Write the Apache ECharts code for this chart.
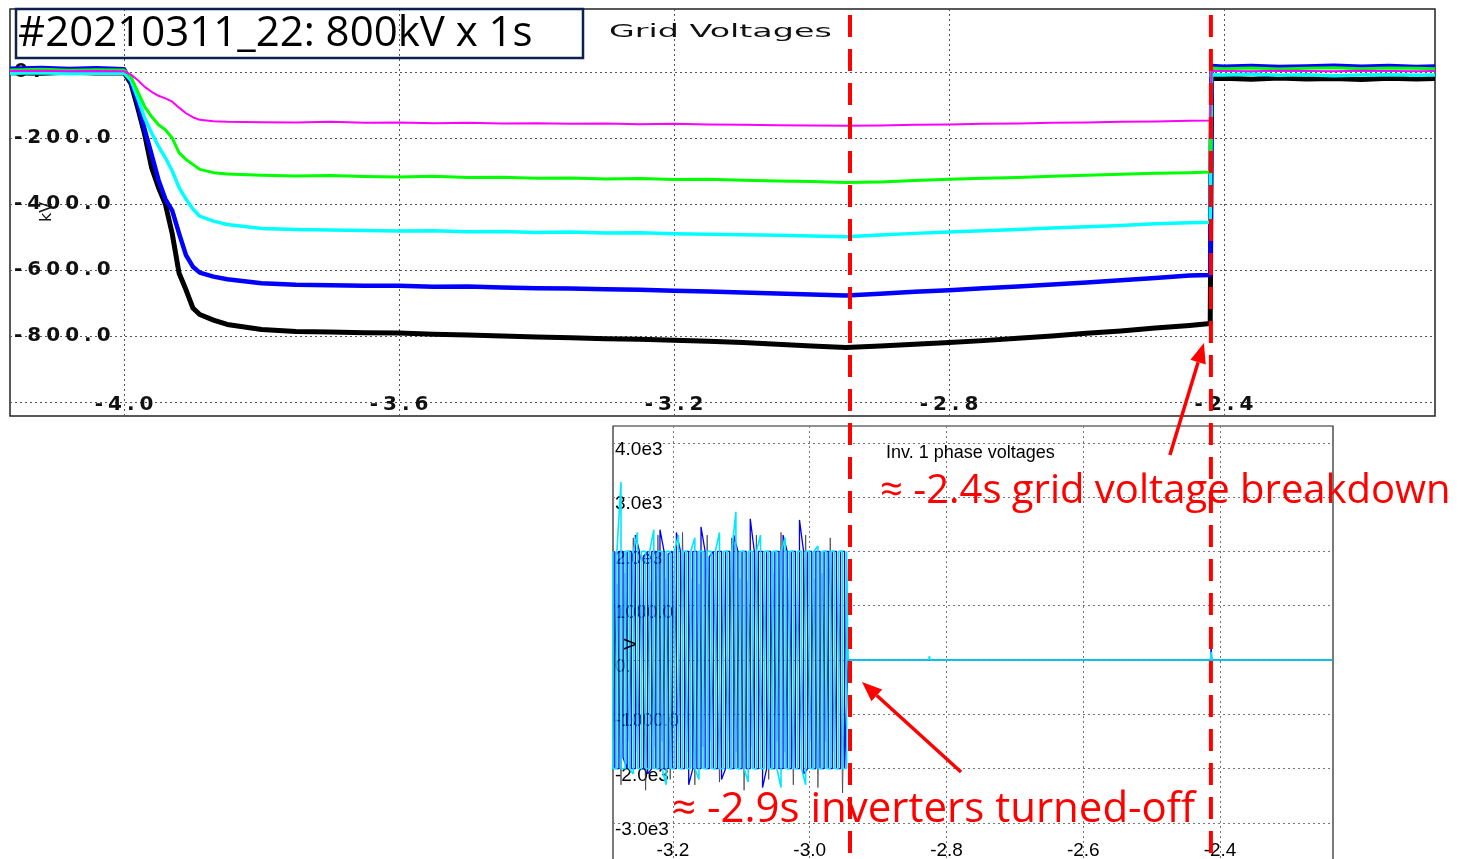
<!DOCTYPE html>
<html>
<head>
<meta charset="utf-8">
<script src="https://cdn.jsdelivr.net/npm/echarts@6/dist/echarts.min.js"></script>
<style>
  html, body { margin: 0; padding: 0; background: #fff; }
  #chart { width: 1458px; height: 859px; }
</style>
</head>
<body>
<div id="chart"></div>
<script>
// ---- grid voltages (top panel), kV ----
const gridT = [-4.166, -4.12, -4.08, -4.04, -4.0,
  -3.99, -3.98, -3.97, -3.96, -3.95, -3.94, -3.93, -3.92, -3.91, -3.90, -3.89, -3.87, -3.85,
  -3.80, -3.75, -3.70, -3.65, -3.60, -3.55, -3.50, -3.45, -3.40, -3.35, -3.30, -3.25, -3.20, -3.15,
  -3.10, -3.05, -3.00, -2.95, -2.90, -2.85, -2.80, -2.75, -2.70, -2.65, -2.60, -2.55, -2.50, -2.45,
  -2.42, -2.418,
  -2.40, -2.36, -2.32, -2.28, -2.24, -2.20, -2.16, -2.12, -2.093];

const magentaV = [3, 4, 2, 3, 2,
  -8, -25, -45, -60, -72, -80, -90, -108, -125, -137, -145, -149, -151,
  -152, -153, -151, -154, -153, -155, -154, -156, -155, -157, -156, -158, -157, -159,
  -160, -161, -162, -163, -162, -160, -159, -157, -156, -154, -153, -151, -150, -148,
  -147, 4,
  3, 2, 4, 3, 2, 4, 3, 2, 3];
const greenV = [6, 8, 5, 7, 6,
  -15, -60, -105, -135, -160, -175, -200, -245, -265, -280, -295, -305, -309,
  -313, -315, -314, -317, -318, -316, -320, -319, -322, -321, -324, -323, -326, -325,
  -328, -330, -332, -335, -333, -329, -325, -322, -320, -316, -313, -310, -307, -305,
  -303, 12,
  10, 12, 9, 11, 13, 10, 12, 11, 10];
const cyanV = [-4, -2, -5, -3, -4,
  -25, -80, -140, -185, -225, -260, -300, -350, -385, -415, -437, -452, -462,
  -474, -477, -479, -480, -482, -481, -484, -483, -486, -485, -488, -487, -490, -492,
  -493, -495, -497, -499, -494, -489, -485, -481, -477, -473, -469, -465, -460, -457,
  -455, -8,
  -9, -7, -10, -8, -11, -9, -8, -10, -9];
const blueV = [10, 12, 9, 11, 8,
  -30, -95, -175, -250, -327, -385, -420, -490, -555, -590, -608, -620, -628,
  -640, -645, -646, -648, -648, -651, -650, -653, -655, -656, -658, -660, -663, -665,
  -668, -671, -674, -677, -672, -666, -661, -655, -650, -644, -638, -631, -624, -617,
  -615, 18,
  16, 18, 15, 17, 19, 16, 18, 15, 17];
const blackV = [-2, -4, -1, -3, -2,
  -35, -110, -190, -290, -350, -400, -490, -610, -660, -715, -735, -752, -765,
  -780, -786, -788, -790, -791, -795, -797, -800, -803, -805, -808, -810, -813, -816,
  -820, -825, -830, -835, -830, -825, -820, -814, -807, -800, -792, -785, -776, -768,
  -762, -20,
  -19, -22, -18, -21, -20, -23, -19, -21, -20];

const gridXTicks = [-4.0, -3.6, -3.2, -2.8, -2.4];
const gridXLabels = ['-4.0', '-3.6', '-3.2', '-2.8', '-2.4'];
const gridYLines = [0, -200, -400, -600, -800, -1000];
const gridYTicks = [0, -200, -400, -600, -800];
const gridYLabels = ['0.', '-200.0', '-400.0', '-600.0', '-800.0'];

// ---- inverter 1 phase voltages (bottom panel), V ----
// scope style: every sample is a vertical stroke from its low to its high value
const invT = [-3.288, -3.282, -3.276, -3.270, -3.264, -3.258, -3.252, -3.246, -3.240, -3.234,
  -3.228, -3.222, -3.216, -3.210, -3.204, -3.198, -3.192, -3.186, -3.180, -3.174,
  -3.168, -3.162, -3.156, -3.150, -3.144, -3.138, -3.132, -3.126, -3.120, -3.114,
  -3.108, -3.102, -3.096, -3.090, -3.084, -3.078, -3.072, -3.066, -3.060, -3.054,
  -3.048, -3.042, -3.036, -3.030, -3.024, -3.018, -3.012, -3.006, -3.000, -2.994,
  -2.988, -2.982, -2.976, -2.970, -2.964, -2.958, -2.952, -2.946];
const cyanHi = [2000, 2000, 3280, 2000, 2000, 2000, 2350, 2000, 2000, 2000,
  2400, 2000, 2000, 2000, 2000, 2000, 2300, 2000, 2000, 2000,
  2250, 2000, 2000, 2000, 2000, 2000, 2350, 2000, 2000, 2000,
  2730, 2000, 2000, 2000, 2000, 2000, 2300, 2000, 2000, 2000,
  2000, 2000, 2250, 2000, 2000, 2000, 2000, 2000, 2000, 2000,
  2100, 2000, 2000, 2000, 2000, 2000, 2000, 2000];
const cyanLo = [-2000, -2000, -2000, -2000, -2000, -2100, -2000, -2000, -2000, -2000,
  -2000, -2000, -2000, -2300, -2000, -2000, -2000, -2000, -2000, -2000,
  -2000, -2200, -2000, -2000, -2000, -2000, -2000, -2000, -2000, -2000,
  -2000, -2000, -2000, -2250, -2000, -2000, -2000, -2000, -2000, -2000,
  -2000, -2350, -2000, -2000, -2000, -2000, -2000, -2300, -2000, -2000,
  -2000, -2000, -2000, -2000, -2000, -2000, -2000, -2000];

const invTb = [-3.285, -3.279, -3.273, -3.267, -3.261, -3.255, -3.249, -3.243, -3.237, -3.231,
  -3.225, -3.219, -3.213, -3.207, -3.201, -3.195, -3.189, -3.183, -3.177, -3.171,
  -3.165, -3.159, -3.153, -3.147, -3.141, -3.135, -3.129, -3.123, -3.117, -3.111,
  -3.105, -3.099, -3.093, -3.087, -3.081, -3.075, -3.069, -3.063, -3.057, -3.051,
  -3.045, -3.039, -3.033, -3.027, -3.021, -3.015, -3.009, -3.003, -2.997, -2.991,
  -2.985, -2.979, -2.973, -2.967, -2.961, -2.955, -2.949];
const blueHi = [2000, 2000, 2000, 2000, 2000, 2300, 2000, 1900, 2000, 2000,
  2000, 2400, 2000, 1950, 2000, 2350, 2000, 2000, 2000, 2000,
  2000, 2450, 2000, 1900, 2000, 2000, 2000, 2000, 2000, 2300,
  2000, 2000, 2000, 2600, 2000, 2000, 2000, 2000, 2000, 2000,
  2000, 2300, 2000, 2000, 2000, 2580, 2000, 2000, 2000, 2000,
  2000, 2000, 2000, 2000, 2000, 2000, 2000];
const blueLo = [-2000, -2000, -1800, -2000, -2000, -2000, -2000, -2000, -2100, -2000,
  -2000, -2000, -2000, -2000, -2000, -2000, -2000, -2000, -2300, -2000,
  -2000, -2000, -2000, -2000, -2000, -2000, -2200, -2000, -2000, -2000,
  -2000, -2000, -2000, -2000, -2000, -2000, -2350, -2000, -2000, -2000,
  -2000, -2000, -2000, -2000, -2000, -2000, -2100, -2000, -2000, -2000,
  -2000, -2000, -2000, -2000, -2000, -2000, -2000];

const darkV = [-1500, 1400, -2300, 1600, -1500, 2250, -1700, 1500, -2400, 1450,
  -1600, 2300, -1500, 1500, -2200, 1600, -1500, 2350, -1700, 1500,
  -2300, 1400, -1600, 2300, -1500, 1500, -2250, 1600, -1500, 2250,
  -1700, 1500, -2400, 1450, -1600, 2300, -1500, 1500, -2200, 1600,
  -1500, 2350, -1700, 1500, -2300, 1400, -1600, 2300, -1500, 1500,
  -2350, 1600, -1500, 2250, -1700, 1500, -2450, 1450];

// after the inverters are switched off
const tailT = [-2.944, -2.826, -2.825, -2.824, -2.414, -2.413, -2.412, -2.235];
const cyanTail = [0, 0, 70, 0, 0, 150, 0, 0];
const blueTail = [0, 0, 0, 0, 0, 250, 0, 0];
const darkTail = [0, 0, 0, 0, 0, -60, 0, 0];

const invXTicks = [-3.2, -3.0, -2.8, -2.6, -2.4];
const invXLabels = ['-3.2', '-3.0', '-2.8', '-2.6', '-2.4'];
const invYTicks = [4000, 3000, 2000, 1000, 0, -1000, -2000, -3000];
const invYLabels = ['4.0e3', '3.0e3', '2.0e3', '1000.0', '0.', '-1000.0', '-2.0e3', '-3.0e3'];

// event times (s): inverters off, grid voltage breakdown
const eventT = [-2.944, -2.419];

const chart = echarts.init(document.getElementById('chart'));

const pairs = (t, v) => t.map((x, i) => [x, v[i]]);
const strokes = (t, hi, lo) => {
  const out = [];
  t.forEach((x, i) => {
    if (i % 2 === 0) out.push([x, hi[i]], [x, lo[i]]);
    else out.push([x, lo[i]], [x, hi[i]]);
  });
  return out;
};
const spread = s => s.split('').join('\u2005');
const pick = (ticks, labels) => v => {
  const i = ticks.findIndex(t => Math.abs(t - v) < 1e-6);
  return i < 0 ? '' : labels[i];
};

const scopeFont = 'DejaVu Sans';
const invFont = 'Liberation Sans';

const gridLine = (data, color, width) => ({
  type: 'line', xAxisIndex: 0, yAxisIndex: 0, data: data,
  showSymbol: false, silent: true,
  lineStyle: { color: color, width: width, join: 'round' }
});
const invLine = (data, color, width, opacity) => ({
  type: 'line', xAxisIndex: 1, yAxisIndex: 1, data: data,
  showSymbol: false, silent: true,
  lineStyle: { color: color, width: width, opacity: opacity }
});

chart.setOption({
  animation: false,
  backgroundColor: '#fff',
  grid: [
    { left: 10, top: 9, width: 1425, height: 407, show: true, borderColor: '#222', borderWidth: 1.5,
      outerBoundsMode: 'none', containLabel: false },
    { left: 613, top: 426, width: 720, height: 437, show: true, borderColor: '#222', borderWidth: 1.2,
      outerBoundsMode: 'none', containLabel: false }
  ],
  xAxis: [
    {
      type: 'value', gridIndex: 0, min: -4.166, max: -2.093,
      axisLine: { show: false },
      axisTick: { show: false, customValues: gridXTicks },
      splitLine: { show: true, lineStyle: { color: '#555', type: [2, 3], width: 1 } },
      axisLabel: {
        inside: true, margin: 1, customValues: gridXTicks,
        fontFamily: scopeFont, fontSize: 20, fontWeight: 'bold', color: '#111',
        formatter: v => spread(pick(gridXTicks, gridXLabels)(v))
      }
    },
    {
      type: 'value', gridIndex: 1, min: -3.2877, max: -2.2348,
      axisLine: { show: false },
      axisTick: { show: false, customValues: invXTicks },
      splitLine: { show: true, lineStyle: { color: '#777', type: [2, 3], width: 1 } },
      axisLabel: {
        inside: true, margin: 3, customValues: invXTicks,
        fontFamily: invFont, fontSize: 19, color: '#000',
        formatter: pick(invXTicks, invXLabels)
      }
    }
  ],
  yAxis: [
    {
      type: 'value', gridIndex: 0, min: -1042.4, max: 190.9,
      axisLine: { show: false },
      axisTick: { show: false, customValues: gridYLines },
      splitLine: { show: true, lineStyle: { color: '#555', type: [2, 3], width: 1 } },
      axisLabel: {
        inside: true, margin: 4, customValues: gridYTicks,
        fontFamily: scopeFont, fontSize: 20, fontWeight: 'bold', color: '#111',
        formatter: v => spread(pick(gridYTicks, gridYLabels)(v))
      }
    },
    {
      type: 'value', gridIndex: 1, min: -3740, max: 4310,
      axisLine: { show: false },
      axisTick: { show: false, customValues: invYTicks },
      splitLine: { show: true, lineStyle: { color: '#777', type: [2, 3], width: 1 } },
      axisLabel: {
        inside: true, margin: 2, customValues: invYTicks, verticalAlign: 'top', lineHeight: 14,
        fontFamily: invFont, fontSize: 19, color: '#000',
        formatter: pick(invYTicks, invYLabels)
      }
    }
  ],
  series: [
    gridLine(pairs(gridT, blackV), '#000000', 5),
    gridLine(pairs(gridT, blueV), '#0000ff', 4.5),
    gridLine(pairs(gridT, cyanV), '#00ffff', 3.5),
    gridLine(pairs(gridT, greenV), '#00ff00', 3),
    gridLine(pairs(gridT, magentaV), '#ff00ff', 2),
    invLine(strokes(invTb, blueHi, blueLo).concat(pairs(tailT, blueTail)), '#0000ee', 1.3, 1),
    invLine(pairs(invT, darkV).concat(pairs(tailT, darkTail)), '#333333', 1, 0.7),
    invLine(strokes(invT, cyanHi, cyanLo).concat(pairs(tailT, cyanTail)), '#00e8ff', 1.6, 1)
  ]
});

// annotations on top of both panels
const ex = eventT.map(t => chart.convertToPixel({ xAxisIndex: 0 }, t));
const red = '#ff0000';

function arrow(x1, y1, x2, y2) {
  const a = Math.atan2(y2 - y1, x2 - x1);
  const len = 20, half = 8;
  const bx = x2 - len * Math.cos(a), by = y2 - len * Math.sin(a);
  const px = -Math.sin(a) * half, py = Math.cos(a) * half;
  return [
    { type: 'line', z: 100, shape: { x1: x1, y1: y1, x2: bx, y2: by }, style: { stroke: red, lineWidth: 3.5 } },
    { type: 'polygon', z: 100, shape: { points: [[x2, y2], [bx + px, by + py], [bx - px, by - py]] }, style: { fill: red } }
  ];
}

const elements = [
  { type: 'rect', z: 100, shape: { x: 16, y: 9, width: 567, height: 49 },
    style: { fill: 'none', stroke: '#0c214f', lineWidth: 2.5 } },
  { type: 'text', z: 100, x: 18, y: 34,
    style: { text: '#20210311_22: 800kV x 1s', fill: '#000', font: '42px "Comic Sans MS", "Open Sans"', verticalAlign: 'middle' } },
  { type: 'text', z: 100, x: 609, y: 32, scaleX: 1.85,
    style: { text: 'Grid Voltages', fill: '#111', font: '18px "DejaVu Sans"', verticalAlign: 'middle' } },
  // axis names
  { type: 'text', z: 100, x: 47, y: 212, rotation: Math.PI / 2,
    style: { text: 'kV', fill: '#111', font: '16px "DejaVu Sans"', align: 'center', verticalAlign: 'middle' } },
  { type: 'text', z: 100, x: 631, y: 644, rotation: Math.PI / 2,
    style: { text: 'V', fill: '#000', font: '17px "Liberation Sans"', align: 'center', verticalAlign: 'middle' } },
  { type: 'text', z: 100, x: 886, y: 453,
    style: { text: 'Inv. 1 phase voltages', fill: '#000', font: '18px "Liberation Sans"', verticalAlign: 'middle' } },
  { type: 'text', z: 100, x: 880, y: 492,
    style: { text: '\u2248 -2.4s grid voltage breakdown', fill: red, font: '40px "Comic Sans MS", "Open Sans"', verticalAlign: 'middle' } },
  { type: 'text', z: 100, x: 672, y: 810,
    style: { text: '\u2248 -2.9s inverters turned-off', fill: red, font: '42px "Comic Sans MS", "Open Sans"', verticalAlign: 'middle' } }
];
ex.forEach(x => {
  elements.push({ type: 'line', z: 101, shape: { x1: x, y1: 15, x2: x, y2: 859 },
    style: { stroke: red, lineWidth: 4, lineDash: [22, 12] } });
});
elements.push(...arrow(ex[1] - 41, 455, ex[1] - 7, 343));
elements.push(...arrow(ex[0] + 111, 772, ex[0] + 12, 682));

chart.setOption({ graphic: { elements: elements } });
</script>
</body>
</html>
